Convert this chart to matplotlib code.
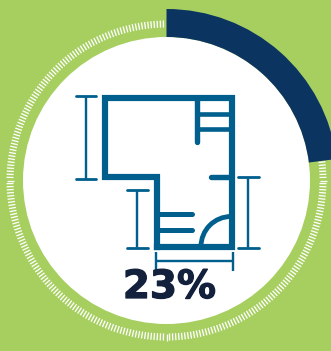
import numpy as np
import matplotlib
matplotlib.use("Agg")
import matplotlib.pyplot as plt
import matplotlib.patheffects as pe
from matplotlib.patches import Wedge, Circle, Arc

# progress value shown in the dial
pct = 23
label = "23%"

GREEN = "#A6CF60"
NAVY = "#0B3560"
BLUE = "#005F8C"
INK = "#14213D"

# dial geometry, in pixels
cx, cy = 166.5, 180.5
r_inner = 143.5
r_outer = 171.5
r_tick0, r_tick1 = 153, 160
n_ticks = 320

# floor plan outline and inner walls
walls = [
    ([157, 157, 104.5, 104.5, 231.5, 231.5, 157], [246.7, 177, 177, 98.3, 98.3, 246.7, 246.7], 6.2, "miter"),
]
inner_walls = [
    ([197.3, 197.3], [98, 142], 5.4),
    ([197.3, 231], [114, 114], 4.6),
    ([197.3, 231], [129, 129], 4.6),
    ([231, 211], [176.7, 176.7], 5.4),
    ([157, 192], [214.3, 214.3], 5),
    ([157, 192], [229.7, 229.7], 5),
]
# dimension markers: (x0, y0, x1, y1), capped across the ends
dims = [
    (86, 96.4, 86, 178.7),
    (137.3, 189.7, 137.3, 248.3),
    (248.3, 177, 248.3, 248.3),
    (155.7, 260.7, 232.7, 260.7),
]

fig = plt.figure(figsize=(3.31, 3.51), dpi=100, facecolor=GREEN)
ax = fig.add_axes([0, 0, 1, 1])
ax.set_xlim(0, 331)
ax.set_ylim(351, 0)
ax.axis("off")

px = 72 / 100

# tick ring runs over the part of the dial not covered by the value
start = pct / 100 * 360
for a in np.linspace(0, 360, n_ticks, endpoint=False):
    if a < start:
        continue
    t = np.radians(a)
    ax.plot([cx + r_tick0 * np.sin(t), cx + r_tick1 * np.sin(t)],
            [cy - r_tick0 * np.cos(t), cy - r_tick1 * np.cos(t)],
            color="white", lw=1.3 * px, solid_capstyle="butt")

ax.add_patch(Circle((cx, cy), r_inner, fc="white", ec="none"))
# y axis is flipped, so the wedge angles run clockwise from the right
ax.add_patch(Wedge((cx, cy), r_outer, -90, -90 + start, width=r_outer - r_inner, fc=NAVY, ec="none"))

for xs, ys, w, join in walls:
    ax.plot(xs, ys, color=BLUE, lw=w * px, solid_joinstyle=join, solid_capstyle="projecting")
for xs, ys, w in inner_walls:
    ax.plot(xs, ys, color=BLUE, lw=w * px, solid_capstyle="round")

# door swing
ax.add_patch(Arc((231, 246.5), 60, 60, theta1=180, theta2=270, color=BLUE, lw=4.8 * px))

for x0, y0, x1, y1 in dims:
    ax.plot([x0, x1], [y0, y1], color=BLUE, lw=2.4 * px, solid_capstyle="butt")
    if x0 == x1:
        for y in (y0, y1):
            ax.plot([x0 - 10.3, x0 + 10.3], [y, y], color=BLUE, lw=2.8 * px, solid_capstyle="round")
    else:
        for x in (x0, x1):
            ax.plot([x, x], [y0 - 9, y0 + 10.3], color=BLUE, lw=2.4 * px, solid_capstyle="butt")

txt = ax.text(169.5, 287, label, ha="center", va="center", fontsize=28, fontweight="bold",
              family="DejaVu Sans", color=INK)
txt.set_path_effects([pe.withStroke(linewidth=0.9, foreground=INK)])

fig.savefig("out.png", dpi=100, facecolor=GREEN)
